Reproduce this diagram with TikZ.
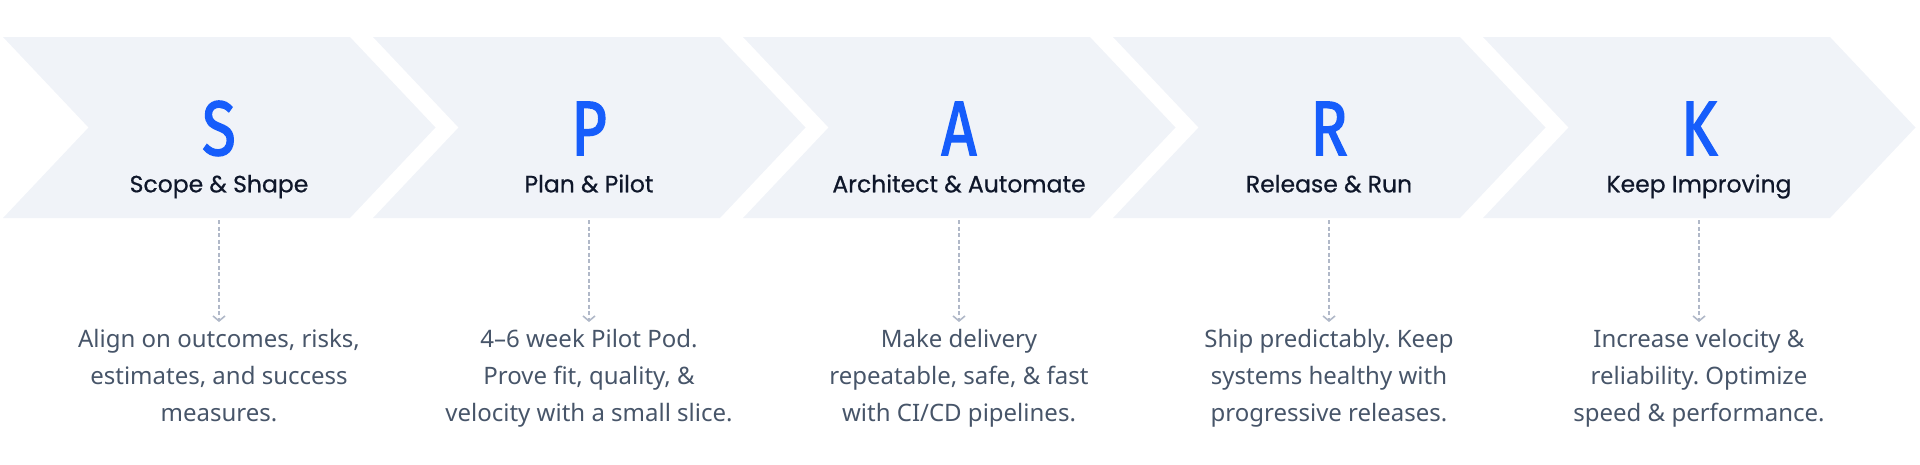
\documentclass[tikz,border=0pt]{standalone}
\usepackage{fontspec}
\setmainfont{Noto Sans}
\newfontfamily\titlefont[FakeBold=0.6]{Poppins}
\newfontfamily\letterfont[FakeBold=2.2]{Fira Sans}
\usetikzlibrary{arrows.meta}
\definecolor{chevfill}{HTML}{F0F3F8}
\definecolor{letterblue}{HTML}{165DFB}
\definecolor{titlecol}{HTML}{0F172A}
\definecolor{desccol}{HTML}{475569}
\definecolor{dashcol}{HTML}{B0B8C8}
\tikzset{
  chevron/.style={fill=chevfill, draw=none},
  bigletter/.style={anchor=base, inner sep=0pt, text=letterblue, font=\letterfont\fontsize{77}{77}\selectfont},
  steptitle/.style={anchor=base, inner sep=0pt, text=titlecol, font=\titlefont\fontsize{23.5}{28}\selectfont},
  stepdesc/.style={anchor=north, inner sep=0pt, align=center, text=desccol, font=\frenchspacing\fontsize{24}{37}\selectfont},
  flowline/.style={draw=dashcol, line width=1.6pt, dash pattern=on 4pt off 2.5pt, -{Straight Barb[length=5pt,width=12pt,line width=1.6pt]}},
}
\newcommand{\sq}[1]{\scalebox{0.8}[1]{#1}}
\frenchspacing
\begin{document}
\begin{tikzpicture}[x=1pt,y=-1pt]
\useasboundingbox (0,0) rectangle (1920,464);
\foreach \i/\L/\T/\Da/\Db/\Dc [count=\n from 0] in {
  S/S/{Scope \& Shape}/{Align on outcomes, risks,}/{estimates, and success}/{measures.},
  P/P/{Plan \& Pilot}/{4–6 week Pilot Pod.}/{Prove fit, quality, \&}/{velocity with a small slice.},
  A/A/{Architect \& Automate}/{Make delivery}/{repeatable, safe, \& fast}/{with CI/CD pipelines.},
  R/R/{Release \& Run}/{Ship predictably. Keep}/{systems healthy with}/{progressive releases.},
  K/K/{Keep Improving}/{Increase velocity \&}/{reliability. Optimize}/{speed \& performance.}} {
  \pgfmathsetmacro{\lx}{3+370*\n}
  \pgfmathsetmacro{\cx}{\lx+216}
  \fill[chevron] (\lx,37) -- ++(347,0) -- ++(85.5,90.5) -- ++(-85.5,90.5) -- ++(-347,0) -- ++(85.5,-90.5) -- cycle;
  \node[bigletter] (letter\i) at (\cx,155) {\sq{\L}};
  \node[steptitle] (title\i) at (\cx,192.3) {\T};
  \node[stepdesc] (desc\i) at (\cx,329.3) {\rule{0pt}{18pt}\Da\\\Db\\\Dc};
  \coordinate (top\i) at (\cx,220);
  \coordinate (end\i) at (\cx,322);
  \draw[flowline] (top\i) -- (end\i);
}
\end{tikzpicture}
\end{document}
